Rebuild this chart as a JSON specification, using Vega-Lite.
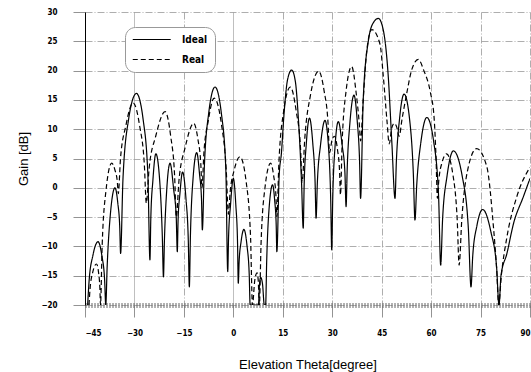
{
"$schema": "https://vega.github.io/schema/vega-lite/v6.json",
"width": 445, "height": 293,
"autosize": {"type": "none"},
"padding": {"left": 85, "top": 12, "right": 1, "bottom": 67},
"background": "white",
"config": {"view": {"stroke": null}, "font": "Liberation Sans"},
"data": {"values": [
{"series":"Ideal","theta":-44.2,"gain":-20},{"series":"Ideal","theta":-43.73,"gain":-15.7},{"series":"Ideal","theta":-42.63,"gain":-11.6},{"series":"Ideal","theta":-41.05,"gain":-9.2},{"series":"Ideal","theta":-39.88,"gain":-11.6},{"series":"Ideal","theta":-39.05,"gain":-15.7},{"series":"Ideal","theta":-38.7,"gain":-20},{"series":"Ideal","theta":-38.28,"gain":-13.5},{"series":"Ideal","theta":-37.3,"gain":-4.5},{"series":"Ideal","theta":-35.9,"gain":0},{"series":"Ideal","theta":-35.05,"gain":-2.6},{"series":"Ideal","theta":-34.46,"gain":-6.7},{"series":"Ideal","theta":-34.2,"gain":-11.2},{"series":"Ideal","theta":-33.48,"gain":1.5},{"series":"Ideal","theta":-31.8,"gain":11.6},{"series":"Ideal","theta":-29.4,"gain":16.1},{"series":"Ideal","theta":-27.35,"gain":11.6},{"series":"Ideal","theta":-25.92,"gain":2.1},{"series":"Ideal","theta":-25.3,"gain":-12.3},{"series":"Ideal","theta":-25.03,"gain":-5.1},{"series":"Ideal","theta":-24.4,"gain":1.3},{"series":"Ideal","theta":-23.5,"gain":5.8},{"series":"Ideal","theta":-22.35,"gain":1.3},{"series":"Ideal","theta":-21.55,"gain":-8.2},{"series":"Ideal","theta":-21.2,"gain":-15.2},{"series":"Ideal","theta":-20.9,"gain":-8.9},{"series":"Ideal","theta":-20.2,"gain":-0.3},{"series":"Ideal","theta":-19.2,"gain":4.2},{"series":"Ideal","theta":-18.1,"gain":-0.3},{"series":"Ideal","theta":-17.33,"gain":-4.9},{"series":"Ideal","theta":-17.0,"gain":-10.9},{"series":"Ideal","theta":-16.76,"gain":-5.5},{"series":"Ideal","theta":-16.2,"gain":-1.0},{"series":"Ideal","theta":-15.4,"gain":2.7},{"series":"Ideal","theta":-14.38,"gain":-1.8},{"series":"Ideal","theta":-13.66,"gain":-9.1},{"series":"Ideal","theta":-13.35,"gain":-16.9},{"series":"Ideal","theta":-13.01,"gain":-8.0},{"series":"Ideal","theta":-12.23,"gain":1.5},{"series":"Ideal","theta":-11.1,"gain":6.0},{"series":"Ideal","theta":-10.25,"gain":2.3},{"series":"Ideal","theta":-9.66,"gain":-1.9},{"series":"Ideal","theta":-9.4,"gain":-7.2},{"series":"Ideal","theta":-8.82,"gain":3.2},{"series":"Ideal","theta":-7.48,"gain":12.7},{"series":"Ideal","theta":-5.55,"gain":17.2},{"series":"Ideal","theta":-3.63,"gain":12.7},{"series":"Ideal","theta":-2.28,"gain":3.2},{"series":"Ideal","theta":-1.7,"gain":-14.3},{"series":"Ideal","theta":-1.45,"gain":-8.5},{"series":"Ideal","theta":-0.85,"gain":-2.9},{"series":"Ideal","theta":0.0,"gain":1.6},{"series":"Ideal","theta":0.75,"gain":-2.9},{"series":"Ideal","theta":1.28,"gain":-9.5},{"series":"Ideal","theta":1.5,"gain":-16.3},{"series":"Ideal","theta":1.76,"gain":-12.6},{"series":"Ideal","theta":2.35,"gain":-9.2},{"series":"Ideal","theta":3.2,"gain":-7.1},{"series":"Ideal","theta":4.15,"gain":-9.9},{"series":"Ideal","theta":4.82,"gain":-14.8},{"series":"Ideal","theta":5.1,"gain":-20},{"series":"Ideal","theta":7.6,"gain":-20},{"series":"Ideal","theta":7.95,"gain":-16.4},{"series":"Ideal","theta":8.3,"gain":-15.3},{"series":"Ideal","theta":8.85,"gain":-16.4},{"series":"Ideal","theta":9.4,"gain":-20},{"series":"Ideal","theta":9.8,"gain":-20},{"series":"Ideal","theta":10.12,"gain":-12.5},{"series":"Ideal","theta":10.85,"gain":-3.5},{"series":"Ideal","theta":11.9,"gain":0.5},{"series":"Ideal","theta":12.55,"gain":-2.2},{"series":"Ideal","theta":13.0,"gain":-6.3},{"series":"Ideal","theta":13.2,"gain":-10.9},{"series":"Ideal","theta":13.9,"gain":2},{"series":"Ideal","theta":14.6,"gain":6},{"series":"Ideal","theta":15.3,"gain":12},{"series":"Ideal","theta":16.5,"gain":18.6},{"series":"Ideal","theta":17.7,"gain":20.1},{"series":"Ideal","theta":18.8,"gain":18.2},{"series":"Ideal","theta":19.7,"gain":12.1},{"series":"Ideal","theta":20.7,"gain":0.8},{"series":"Ideal","theta":21.2,"gain":-6.9},{"series":"Ideal","theta":21.49,"gain":0.6},{"series":"Ideal","theta":22.15,"gain":7.6},{"series":"Ideal","theta":23.1,"gain":11.9},{"series":"Ideal","theta":24.1,"gain":7.6},{"series":"Ideal","theta":24.8,"gain":1.0},{"series":"Ideal","theta":25.1,"gain":-5.2},{"series":"Ideal","theta":25.5,"gain":1.0},{"series":"Ideal","theta":26.45,"gain":7.3},{"series":"Ideal","theta":27.8,"gain":11.5},{"series":"Ideal","theta":28.83,"gain":7.3},{"series":"Ideal","theta":29.54,"gain":-2.0},{"series":"Ideal","theta":29.85,"gain":-10.6},{"series":"Ideal","theta":30.15,"gain":-2.0},{"series":"Ideal","theta":30.85,"gain":7.0},{"series":"Ideal","theta":31.85,"gain":11.3},{"series":"Ideal","theta":33.03,"gain":7.2},{"series":"Ideal","theta":33.85,"gain":2.6},{"series":"Ideal","theta":34.2,"gain":-3.2},{"series":"Ideal","theta":34.56,"gain":3.5},{"series":"Ideal","theta":35.4,"gain":11.3},{"series":"Ideal","theta":36.6,"gain":15.8},{"series":"Ideal","theta":37.6,"gain":11.3},{"series":"Ideal","theta":38.3,"gain":4.5},{"series":"Ideal","theta":38.6,"gain":-1.8},{"series":"Ideal","theta":39.4,"gain":15.0},{"series":"Ideal","theta":41.0,"gain":25.2},{"series":"Ideal","theta":42.5,"gain":28.2},{"series":"Ideal","theta":44.0,"gain":28.9},{"series":"Ideal","theta":45.5,"gain":26.9},{"series":"Ideal","theta":47.0,"gain":19.0},{"series":"Ideal","theta":48.1,"gain":7.6},{"series":"Ideal","theta":49.05,"gain":-1.8},{"series":"Ideal","theta":49.46,"gain":4.5},{"series":"Ideal","theta":50.43,"gain":11.8},{"series":"Ideal","theta":51.8,"gain":16.0},{"series":"Ideal","theta":53.45,"gain":11.8},{"series":"Ideal","theta":54.6,"gain":2.5},{"series":"Ideal","theta":55.1,"gain":-5.5},{"series":"Ideal","theta":55.64,"gain":0.5},{"series":"Ideal","theta":56.9,"gain":7.8},{"series":"Ideal","theta":58.7,"gain":12.0},{"series":"Ideal","theta":60.8,"gain":7.8},{"series":"Ideal","theta":62.27,"gain":-1.5},{"series":"Ideal","theta":62.9,"gain":-13.2},{"series":"Ideal","theta":63.48,"gain":-5.4},{"series":"Ideal","theta":64.83,"gain":2.0},{"series":"Ideal","theta":66.75,"gain":6.3},{"series":"Ideal","theta":69.43,"gain":2.0},{"series":"Ideal","theta":71.3,"gain":-7.0},{"series":"Ideal","theta":72.1,"gain":-16.9},{"series":"Ideal","theta":72.63,"gain":-11.6},{"series":"Ideal","theta":73.88,"gain":-6.5},{"series":"Ideal","theta":75.65,"gain":-3.7},{"series":"Ideal","theta":78.13,"gain":-7.5},{"series":"Ideal","theta":79.86,"gain":-13.5},{"series":"Ideal","theta":80.6,"gain":-20},{"series":"Ideal","theta":81.2,"gain":-15},{"series":"Ideal","theta":83.0,"gain":-11.2},{"series":"Ideal","theta":85.0,"gain":-6.1},{"series":"Ideal","theta":88.0,"gain":-1.5},{"series":"Ideal","theta":90.0,"gain":1.6},
{"series":"Real","theta":-43.8,"gain":-20},{"series":"Real","theta":-43.46,"gain":-17.2},{"series":"Real","theta":-42.65,"gain":-14.4},{"series":"Real","theta":-41.5,"gain":-13.0},{"series":"Real","theta":-40.9,"gain":-14.4},{"series":"Real","theta":-40.48,"gain":-17.2},{"series":"Real","theta":-40.3,"gain":-20},{"series":"Real","theta":-39.79,"gain":-9.8},{"series":"Real","theta":-38.6,"gain":-0.3},{"series":"Real","theta":-36.9,"gain":4.2},{"series":"Real","theta":-35.9,"gain":3.0},{"series":"Real","theta":-35.2,"gain":1.1},{"series":"Real","theta":-34.9,"gain":-1.0},{"series":"Real","theta":-34.23,"gain":5.0},{"series":"Real","theta":-32.65,"gain":10.5},{"series":"Real","theta":-30.4,"gain":14.5},{"series":"Real","theta":-28.4,"gain":10.5},{"series":"Real","theta":-27.0,"gain":4.0},{"series":"Real","theta":-26.4,"gain":-2.6},{"series":"Real","theta":-25.55,"gain":3.3},{"series":"Real","theta":-23.55,"gain":8.8},{"series":"Real","theta":-20.7,"gain":13.0},{"series":"Real","theta":-19.0,"gain":8.8},{"series":"Real","theta":-17.81,"gain":2.0},{"series":"Real","theta":-17.3,"gain":-5.0},{"series":"Real","theta":-16.5,"gain":1.2},{"series":"Real","theta":-14.65,"gain":6.8},{"series":"Real","theta":-12.0,"gain":11.0},{"series":"Real","theta":-10.75,"gain":8.3},{"series":"Real","theta":-9.88,"gain":4.2},{"series":"Real","theta":-9.5,"gain":0.0},{"series":"Real","theta":-8.95,"gain":5.8},{"series":"Real","theta":-7.65,"gain":11.3},{"series":"Real","theta":-5.8,"gain":15.3},{"series":"Real","theta":-3.65,"gain":11.0},{"series":"Real","theta":-2.15,"gain":3.0},{"series":"Real","theta":-1.5,"gain":-4.5},{"series":"Real","theta":-0.98,"gain":-0.8},{"series":"Real","theta":0.25,"gain":3.0},{"series":"Real","theta":2.0,"gain":5.3},{"series":"Real","theta":3.9,"gain":1.0},{"series":"Real","theta":5.23,"gain":-8.5},{"series":"Real","theta":5.8,"gain":-20},{"series":"Real","theta":6.5,"gain":-15.8},{"series":"Real","theta":7.2,"gain":-14.5},{"series":"Real","theta":7.55,"gain":-15.8},{"series":"Real","theta":7.9,"gain":-20},{"series":"Real","theta":8.41,"gain":-9.5},{"series":"Real","theta":9.6,"gain":0.0},{"series":"Real","theta":11.3,"gain":4.2},{"series":"Real","theta":12.25,"gain":2.0},{"series":"Real","theta":12.92,"gain":-1.3},{"series":"Real","theta":13.2,"gain":-4.9},{"series":"Real","theta":13.82,"gain":4.2},{"series":"Real","theta":15.25,"gain":13.0},{"series":"Real","theta":17.3,"gain":17.2},{"series":"Real","theta":19.1,"gain":13.0},{"series":"Real","theta":20.36,"gain":7.0},{"series":"Real","theta":20.9,"gain":1.0},{"series":"Real","theta":21.65,"gain":8.2},{"series":"Real","theta":23.4,"gain":15.8},{"series":"Real","theta":25.9,"gain":19.9},{"series":"Real","theta":27.55,"gain":16.5},{"series":"Real","theta":28.7,"gain":11.3},{"series":"Real","theta":29.2,"gain":6.0},{"series":"Real","theta":29.95,"gain":8.2},{"series":"Real","theta":30.7,"gain":8.8},{"series":"Real","theta":31.6,"gain":6.5},{"series":"Real","theta":32.23,"gain":2.8},{"series":"Real","theta":32.5,"gain":-1.2},{"series":"Real","theta":33.01,"gain":7.7},{"series":"Real","theta":34.2,"gain":16.5},{"series":"Real","theta":35.9,"gain":20.7},{"series":"Real","theta":37.3,"gain":16.0},{"series":"Real","theta":38.2,"gain":11.0},{"series":"Real","theta":38.6,"gain":8.0},{"series":"Real","theta":39.4,"gain":15.0},{"series":"Real","theta":40.5,"gain":23.5},{"series":"Real","theta":42.0,"gain":27.0},{"series":"Real","theta":44.5,"gain":24.5},{"series":"Real","theta":45.5,"gain":19.0},{"series":"Real","theta":46.6,"gain":11.5},{"series":"Real","theta":47.3,"gain":7.5},{"series":"Real","theta":48.05,"gain":10.2},{"series":"Real","theta":48.8,"gain":11.0},{"series":"Real","theta":49.55,"gain":10.4},{"series":"Real","theta":50.3,"gain":8.8},{"series":"Real","theta":51.2,"gain":11.8},{"series":"Real","theta":52.6,"gain":16.1},{"series":"Real","theta":54.1,"gain":20.1},{"series":"Real","theta":56.1,"gain":21.9},{"series":"Real","theta":57.8,"gain":20.0},{"series":"Real","theta":59.7,"gain":16.5},{"series":"Real","theta":60.9,"gain":12.0},{"series":"Real","theta":61.5,"gain":5.0},{"series":"Real","theta":61.9,"gain":-1.8},{"series":"Real","theta":62.32,"gain":1.2},{"series":"Real","theta":63.3,"gain":4.3},{"series":"Real","theta":64.7,"gain":5.8},{"series":"Real","theta":66.6,"gain":2.3},{"series":"Real","theta":67.93,"gain":-5.6},{"series":"Real","theta":68.5,"gain":-13.2},{"series":"Real","theta":69.3,"gain":-5.5},{"series":"Real","theta":71.15,"gain":3.2},{"series":"Real","theta":73.8,"gain":6.7},{"series":"Real","theta":76.9,"gain":3.6},{"series":"Real","theta":78.9,"gain":-6.6},{"series":"Real","theta":79.9,"gain":-14.0},{"series":"Real","theta":80.5,"gain":-20},{"series":"Real","theta":81.3,"gain":-15.0},{"series":"Real","theta":83.0,"gain":-8.4},{"series":"Real","theta":86.0,"gain":-1.5},{"series":"Real","theta":90.0,"gain":3.5}
]},
"mark": {"type": "line", "interpolate": "monotone", "color": "black", "strokeWidth": 1.2, "clip": true},
"encoding": {
  "x": {"field": "theta", "type": "quantitative",
    "scale": {"domain": [-45, 90], "nice": false, "zero": false},
    "axis": {"values": [-45, -30, -15, 0, 15, 30, 45, 60, 75, 90], "title": "Elevation Theta[degree]",
      "grid": true,
      "gridDash": {"condition": {"test": "datum.value === -30 || datum.value === 0", "value": [1, 0]}, "value": [7, 2, 1, 2]},
      "gridColor": "#999", "gridWidth": 0.8, "gridOpacity": 1,
      "domainDash": [1, 2], "domainWidth": 5, "domainColor": "#666",
      "tickSize": 12, "tickColor": "#777", "tickWidth": 0.8,
      "labelPadding": 12, "labelFont": "DejaVu Sans Condensed", "labelFontSize": 8, "labelFontWeight": "bold", "labelColor": "black",
      "titleFont": "Liberation Sans", "titleFontSize": 13, "titleFontWeight": "normal", "titleColor": "black",
      "titleY": 63, "titleBaseline": "alphabetic"}},
  "y": {"field": "gain", "type": "quantitative",
    "scale": {"domain": [-20, 30], "nice": false, "zero": false},
    "axis": {"values": [-20, -15, -10, -5, 0, 5, 10, 15, 20, 25, 30], "title": "Gain [dB]",
      "grid": true, "gridDash": [7, 2, 1, 2], "gridColor": "#999", "gridWidth": 0.8, "gridOpacity": 1,
      "domainColor": "black", "domainWidth": 1,
      "tickSize": 12, "tickColor": "#777", "tickWidth": 0.8,
      "labelPadding": 16, "labelFont": "DejaVu Sans Condensed", "labelFontSize": 8, "labelFontWeight": "bold", "labelColor": "black",
      "titleFont": "Liberation Sans", "titleFontSize": 13, "titleFontWeight": "normal", "titleColor": "black",
      "titleX": -58, "titleBaseline": "alphabetic"}},
  "strokeDash": {"field": "series", "type": "nominal",
    "scale": {"domain": ["Ideal", "Real"], "range": [[1, 0], [5, 3]]},
    "legend": {"title": null, "orient": "none", "legendX": 40, "legendY": 15,
      "symbolType": "M-1,0H7", "symbolSize": 90, "symbolStrokeWidth": 1.2, "symbolStrokeColor": "black",
      "labelFont": "DejaVu Sans Condensed", "labelFontSize": 10, "labelFontWeight": "bold", "labelColor": "black", "labelOffset": 39,
      "strokeColor": "#999", "cornerRadius": 10, "padding": 7, "fillColor": "white", "rowPadding": 9}}
}
}
